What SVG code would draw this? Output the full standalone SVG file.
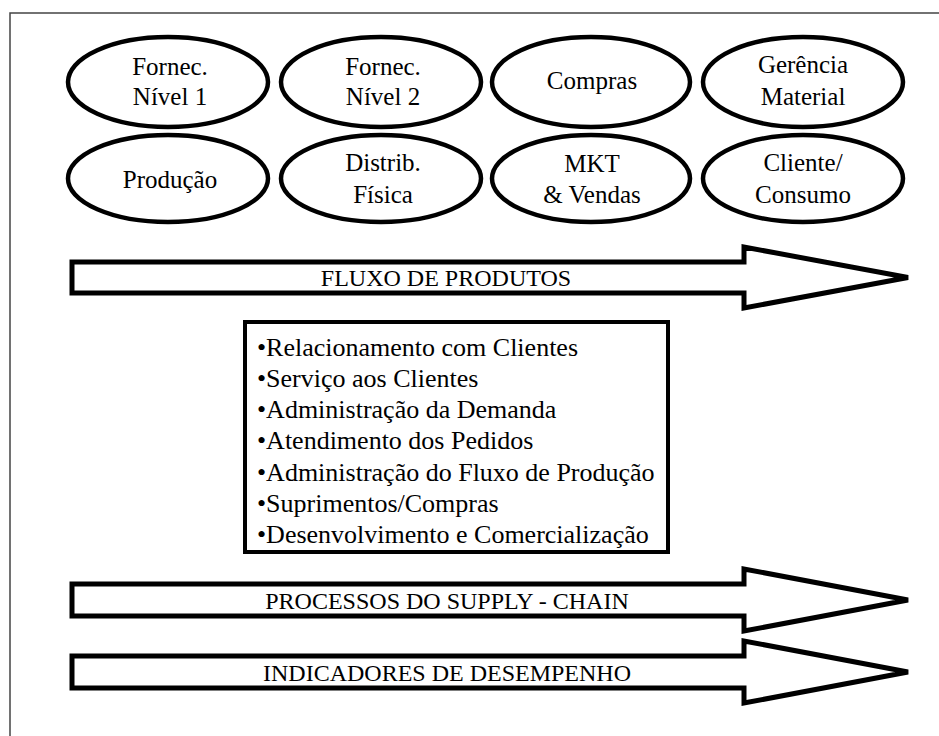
<svg xmlns="http://www.w3.org/2000/svg" width="939" height="736" viewBox="0 0 939 736">
<style>
.frame{fill:none;stroke:#444;stroke-width:1.5}
.node ellipse{fill:#fff;stroke:#000;stroke-width:4.5}
.arrow{fill:#fff;stroke:#000;stroke-width:5;stroke-linejoin:miter}
.box{fill:#fff;stroke:#000;stroke-width:4}
text{font-family:'Liberation Serif','Times New Roman',serif;fill:#000}
.t{font-size:25px;text-anchor:middle}
.a{font-size:24px;text-anchor:middle}
.l{font-size:26px}
</style>
<rect width="939" height="736" fill="#fff"/>
<rect class="frame" x="10" y="13" width="945" height="740"/>

<g id="n-fornec1" class="node"><ellipse cx="168" cy="82" rx="100" ry="45"/><text class="t" x="170" y="75">Fornec.</text><text class="t" x="170" y="105">Nível 1</text></g>
<g id="n-fornec2" class="node"><ellipse cx="381" cy="82" rx="100" ry="45"/><text class="t" x="383" y="75">Fornec.</text><text class="t" x="383" y="105">Nível 2</text></g>
<g id="n-compras" class="node"><ellipse cx="591" cy="82" rx="99" ry="45"/><text class="t" x="592" y="89">Compras</text></g>
<g id="n-gerencia" class="node"><ellipse cx="803" cy="82" rx="100" ry="45"/><text class="t" x="803" y="73">Gerência</text><text class="t" x="803" y="105">Material</text></g>

<g id="n-producao" class="node"><ellipse cx="168" cy="178.5" rx="100" ry="43.5"/><text class="t" x="170" y="188">Produção</text></g>
<g id="n-distrib" class="node"><ellipse cx="381" cy="178.5" rx="100" ry="43.5"/><text class="t" x="383" y="171">Distrib.</text><text class="t" x="383" y="203">Física</text></g>
<g id="n-mkt" class="node"><ellipse cx="591" cy="178.5" rx="99" ry="43.5"/><text class="t" x="592" y="172">MKT</text><text class="t" x="592" y="203">&amp; Vendas</text></g>
<g id="n-cliente" class="node"><ellipse cx="803" cy="178.5" rx="100" ry="43.5"/><text class="t" x="803" y="171">Cliente/</text><text class="t" x="803" y="203">Consumo</text></g>

<g id="connectors">
<g id="a-fluxo"><path class="arrow" d="M72,262 H744 V247 L908,277.5 L744,308 V293 H72 Z"/><text class="a" x="446" y="286">FLUXO DE PRODUTOS</text></g>
<g id="a-processos"><path class="arrow" d="M72,584 H744 V569 L908,600 L744,631 V616 H72 Z"/><text class="a" x="447" y="609">PROCESSOS DO SUPPLY - CHAIN</text></g>
<g id="a-indicadores"><path class="arrow" d="M72,656 H744 V641 L908,672 L744,703 V688 H72 Z"/><text class="a" x="447" y="681">INDICADORES DE DESEMPENHO</text></g>
</g>

<g id="n-processos-lista">
<rect class="box" x="245" y="322" width="423" height="230"/>
<text class="l" x="257" y="356">•Relacionamento com Clientes</text>
<text class="l" x="257" y="387">•Serviço aos Clientes</text>
<text class="l" x="257" y="418">•Administração da Demanda</text>
<text class="l" x="257" y="449">•Atendimento dos Pedidos</text>
<text class="l" x="257" y="481">•Administração do Fluxo de Produção</text>
<text class="l" x="257" y="512">•Suprimentos/Compras</text>
<text class="l" x="257" y="543">•Desenvolvimento e Comercialização</text>
</g>
</svg>
